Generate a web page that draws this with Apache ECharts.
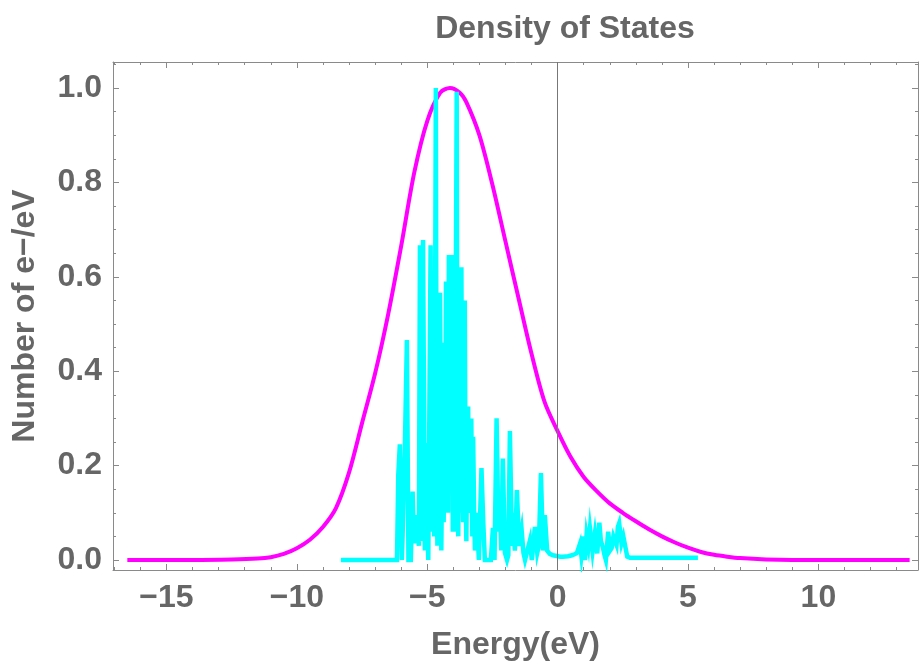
<!DOCTYPE html>
<html><head><meta charset="utf-8">
<script src="https://cdn.jsdelivr.net/npm/echarts@6/dist/echarts.min.js"></script>
<style>html,body{margin:0;padding:0;background:#fff}#c{width:919px;height:668px}</style>
</head><body><div id="c"></div>
<script>
const titleText = 'Density of States';
const xName = 'Energy(eV)';
const yName = 'Number of e\u2212/eV';

const xMajorTicks = [-15, -10, -5, 0, 5, 10];
const xMinorTicks = [-17, -16, -14, -13, -12, -11, -9, -8, -7, -6, -4, -3, -2, -1, 1, 2, 3, 4, 6, 7, 8, 9, 11, 12, 13];
const yMajorTicks = [0, 0.2, 0.4, 0.6, 0.8, 1.0];
const yMinorTicks = [0.05, 0.1, 0.15, 0.25, 0.3, 0.35, 0.45, 0.5, 0.55, 0.65, 0.7, 0.75, 0.85, 0.9, 0.95, 1.05];

// Broadened DOS (magenta)
const magentaX = [-16.5, -14.0, -12.5, -11.5, -11.0, -10.5, -10.0, -9.5, -9.0, -8.5, -8.0, -7.5, -7.0, -6.5, -6.0, -5.5, -5.0, -4.5, -4.13, -3.75, -3.5, -3.0, -2.5, -2.0, -1.5, -1.0, -0.5, 0.0, 0.5, 1.0, 1.5, 2.0, 2.5, 3.0, 3.5, 4.0, 4.5, 5.0, 5.5, 6.0, 6.5, 7.0, 8.0, 9.0, 13.5];
const magentaY = [0, 0, 0.001, 0.003, 0.006, 0.013, 0.025, 0.043, 0.07, 0.11, 0.185, 0.29, 0.395, 0.52, 0.665, 0.82, 0.93, 0.99, 1.0, 0.99, 0.97, 0.9, 0.795, 0.675, 0.555, 0.437, 0.335, 0.273, 0.218, 0.176, 0.146, 0.12, 0.1, 0.082, 0.065, 0.05, 0.037, 0.026, 0.017, 0.011, 0.007, 0.004, 0.001, 0, 0];

// Raw DOS (cyan)
const cyanX = [-8.31, -6.16, -6.11, -6.05, -5.97, -5.90, -5.86, -5.78, -5.72, -5.63, -5.56, -5.51, -5.44, -5.38, -5.32, -5.28, -5.22, -5.16, -5.09, -5.03,
  -4.96, -4.92, -4.87, -4.84, -4.82, -4.79, -4.76, -4.73, -4.70, -4.67, -4.64, -4.61, -4.59, -4.57, -4.54, -4.51, -4.48, -4.46, -4.43, -4.40,
  -4.37, -4.34, -4.31, -4.28, -4.25, -4.23, -4.20, -4.17, -4.14, -4.11, -4.08, -4.05, -4.02, -4.00, -3.97, -3.94, -3.90, -3.87, -3.84, -3.81,
  -3.78, -3.75, -3.72, -3.69, -3.66, -3.62, -3.59, -3.56, -3.53, -3.50, -3.47, -3.43, -3.40, -3.36, -3.33, -3.31, -3.27, -3.24, -3.20, -3.17,
  -3.10, -3.02, -2.92, -2.85, -2.79, -2.67, -2.56, -2.48, -2.42, -2.34, -2.27, -2.21, -2.16, -2.10, -2.02, -1.94, -1.89, -1.83, -1.75, -1.70,
  -1.64, -1.56, -1.48, -1.38, -1.31, -1.25, -1.18, -1.06, -0.99, -0.87, -0.78, -0.72, -0.64, -0.56, -0.49, -0.40, -0.30, -0.18, -0.08, 0.1,
  0.2, 0.4, 0.55, 0.65, 0.74, 0.86, 0.91, 0.98, 1.05, 1.11, 1.18, 1.24, 1.34, 1.43, 1.52, 1.60, 1.66, 1.73, 1.80, 1.85,
  1.94, 2.01, 2.07, 2.14, 2.20, 2.26, 2.31, 2.36, 2.45, 2.52, 2.58, 2.67, 2.77, 5.38];
const cyanY = [0, 0, 0.18, 0.245, 0, 0, 0.23, 0.466, 0, 0, 0.145, 0.035, 0.095, 0.06, 0.03, 0.667, 0.04, 0.678, 0.02, 0.248,
  0, 0.3, 0.667, 0.2, 0.06, 0.25, 0.17, 0.05, 0.5, 1.0, 0.2, 0.03, 0.25, 0.3, 0.1, 0.566, 0.3, 0.02, 0.2, 0.46,
  0.08, 0.3, 0.1, 0.59, 0.15, 0.35, 0.1, 0.646, 0.2, 0.4, 0.15, 0.646, 0.06, 0.25, 0.06, 0.35, 0.6, 0.992, 0.2, 0.05,
  0.3, 0.4, 0.1, 0.62, 0.2, 0.08, 0.3, 0.55, 0.15, 0.04, 0.25, 0.325, 0.1, 0.12, 0.2, 0.3, 0.05, 0.261, 0.1, 0.02,
  0.1, 0, 0.195, 0.078, 0, 0, 0, 0.068, 0, 0.30, 0.06, 0.113, 0.02, 0.215, 0.015, 0, 0.01, 0.273, 0.03, 0.1,
  0.02, 0.148, 0.03, 0.064, 0.015, 0, 0, 0.042, 0, 0.07, 0.015, 0.03, 0.184, 0.02, 0.095, 0.02, 0.013, 0.01, 0.009, 0.007,
  0.007, 0.008, 0.01, 0.012, 0.015, 0.035, 0.01, 0.05, 0, 0.053, 0.03, 0.067, 0.018, 0.056, 0.014, 0.079, 0.04, 0.028, 0.01, 0,
  0.06, 0.02, 0.025, 0.05, 0.05, 0.032, 0.07, 0.078, 0.036, 0.05, 0.05, 0.007, 0.005, 0.005];

const FONT = '"Liberation Sans", Arial, sans-serif';
const TXT = '#666666';
const FRAME = '#8a8a8a';
const FS = 32;
const X_MIN = -17.05, X_MAX = 13.82, Y_MIN = -0.0212, Y_MAX = 1.0551;

const zip = (xs, ys) => xs.map((x, i) => [x, ys[i]]);
const fmtX = v => (v < 0 ? '\u2212' + (-v) : String(v));

function xAxisDef(pos, ticks, len, main) {
  return {
    type: 'value', position: pos, min: X_MIN, max: X_MAX,
    axisLine: { show: main, onZero: false, lineStyle: { color: FRAME, width: 1 } },
    axisTick: { show: true, inside: true, length: len, customValues: ticks, lineStyle: { color: FRAME, width: 1 } },
    axisLabel: (main && pos === 'bottom') ? { show: true, customValues: ticks, formatter: fmtX, color: TXT, fontSize: FS, fontWeight: 'bold', fontFamily: FONT, margin: 12 } : { show: false },
    splitLine: { show: false },
    name: (main && pos === 'bottom') ? xName : '',
    nameLocation: 'middle', nameGap: 59,
    nameTextStyle: { color: TXT, fontSize: FS, fontWeight: 'bold', fontFamily: FONT }
  };
}
function yAxisDef(pos, ticks, len, main) {
  return {
    type: 'value', position: pos, min: Y_MIN, max: Y_MAX,
    axisLine: { show: main, onZero: false, lineStyle: { color: FRAME, width: 1 } },
    axisTick: { show: true, inside: true, length: len, customValues: ticks, lineStyle: { color: FRAME, width: 1 } },
    axisLabel: (main && pos === 'left') ? { show: true, customValues: ticks, formatter: v => v.toFixed(1), color: TXT, fontSize: FS, fontWeight: 'bold', fontFamily: FONT, margin: 11 } : { show: false },
    splitLine: { show: false },
    name: (main && pos === 'left') ? yName : '',
    nameLocation: 'middle', nameGap: 72, nameRotate: 90,
    nameTextStyle: { color: TXT, fontSize: FS, fontWeight: 'bold', fontFamily: FONT }
  };
}

const chart = echarts.init(document.getElementById('c'), null, { renderer: 'canvas' });
chart.setOption({
  animation: false,
  backgroundColor: '#ffffff',
  title: {
    text: titleText, left: 560, top: 8, textAlign: 'center',
    textStyle: { color: TXT, fontSize: FS, fontWeight: 'bold', fontFamily: FONT }
  },
  grid: { left: 113, right: 1, top: 62, bottom: 98, containLabel: false },
  xAxis: [
    xAxisDef('bottom', xMajorTicks, 6, true),
    xAxisDef('bottom', xMinorTicks, 3, false),
    xAxisDef('top', xMajorTicks, 6, true),
    xAxisDef('top', xMinorTicks, 3, false)
  ],
  yAxis: [
    yAxisDef('left', yMajorTicks, 6, true),
    yAxisDef('left', yMinorTicks, 3, false),
    yAxisDef('right', yMajorTicks, 6, true),
    yAxisDef('right', yMinorTicks, 3, false)
  ],
  series: [
    {
      type: 'line', xAxisIndex: 0, yAxisIndex: 0, z: 2,
      data: zip(magentaX, magentaY), showSymbol: false, smooth: 0.3,
      lineStyle: { color: '#ff00ff', width: 4 },
      markLine: {
        silent: true, symbol: ['none', 'none'], label: { show: false },
        lineStyle: { color: '#777777', width: 1, type: 'solid' },
        data: [{ xAxis: 0 }]
      }
    },
    {
      type: 'line', xAxisIndex: 0, yAxisIndex: 0, z: 3,
      data: zip(cyanX, cyanY), showSymbol: false,
      lineStyle: { color: '#00ffff', width: 4.5, join: 'miter' }
    }
  ]
});
</script>
</body></html>
